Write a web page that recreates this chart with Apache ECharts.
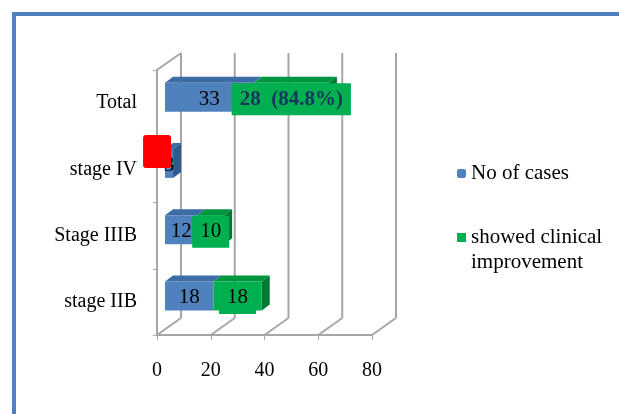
<!DOCTYPE html>
<html>
<head>
<meta charset="utf-8">
<script src="https://cdn.jsdelivr.net/npm/echarts@6/dist/echarts.min.js"></script>
<style>
  html, body { margin: 0; padding: 0; background: #fff; }
  #chart { width: 619px; height: 414px; }
</style>
</head>
<body>
<div id="chart"></div>
<script>
// data
const categories = ['Total', 'stage IV', 'Stage IIIB', 'stage IIB'];
const cases = [33, 3, 12, 18];
const improved = [28, 0, 10, 18];
const improvedText = ['28  (84.8%)', ' ', '10', '18'];
const xTicks = [0, 20, 40, 60, 80];

const BLUE = '#4F81BD', GREEN = '#00B050';
const FONT = 'Liberation Serif';
const depth = [24, -17];   // back wall offset
const barShift = 8, barShiftY = -6; // bar depth

const chart = echarts.init(document.getElementById('chart'));

const greenData = improved.map((v, i) => {
  const lab = {
    show: true,
    formatter: improvedText[i],
    backgroundColor: GREEN,
    padding: [6, 8, 5, 8],
    offset: [0, 2],
    color: '#000',
    fontFamily: FONT,
    fontSize: 21
  };
  if (i === 0) {
    lab.fontWeight = 'bold';
    lab.color = '#17375E';
  }
  if (v === 0) {
    lab.backgroundColor = '#FF0000';
    lab.width = 28;
    lab.height = 33;
    lab.padding = 0;
    lab.borderRadius = 3;
    lab.offset = [-16, -12];
  }
  return { value: v, label: lab };
});

const option = {
  animation: false,
  backgroundColor: '#fff',
  graphic: [
    { type: 'rect', shape: { x: 12, y: 12, width: 607, height: 4 }, style: { fill: BLUE } },
    { type: 'rect', shape: { x: 12, y: 12, width: 4, height: 402 }, style: { fill: BLUE } }
  ],
  legend: [
    {
      data: ['No of cases'],
      left: 457, top: 163, padding: 0,
      itemWidth: 9, itemHeight: 9,
      selectedMode: false,
      textStyle: { fontFamily: FONT, fontSize: 21, color: '#000' }
    },
    {
      data: [{ name: 'showed clinical improvement', icon: 'path://M0,0L9,0L9,9L0,9Z M0,34L9,34' }],
      left: 457, top: 225, padding: 0,
      itemWidth: 9, itemHeight: 34,
      selectedMode: false,
      formatter: () => 'showed clinical\nimprovement',
      textStyle: { fontFamily: FONT, fontSize: 21, color: '#000', lineHeight: 25 }
    }
  ],
  grid: [
    { left: 157, top: 70, width: 215, height: 265 },
    { left: 157 + barShift, top: 70 + barShiftY, width: 215, height: 265 }
  ],
  xAxis: [
    {
      gridIndex: 0, type: 'value', min: 0, max: 80, interval: 20,
      axisLine: { show: true, lineStyle: { color: '#A6A6A6', width: 2 } },
      axisTick: { show: true, length: 5, lineStyle: { color: '#A6A6A6' } },
      splitLine: { show: false },
      axisLabel: { margin: 26, fontFamily: FONT, fontSize: 20, color: '#000' }
    },
    { gridIndex: 1, type: 'value', min: 0, max: 80, show: false, splitLine: { show: false } }
  ],
  yAxis: [
    {
      gridIndex: 0, type: 'category', data: categories, inverse: true,
      axisLine: { show: true, lineStyle: { color: '#A6A6A6', width: 2 } },
      axisTick: { show: true, length: 4, lineStyle: { color: '#A6A6A6' } },
      axisLabel: { margin: 20, fontFamily: FONT, fontSize: 20, color: '#000' }
    },
    { gridIndex: 1, type: 'category', data: categories, inverse: true, show: false }
  ],
  series: [
    {
      // back wall and floor of the 3D plot
      type: 'custom',
      xAxisIndex: 0, yAxisIndex: 0,
      z: 1, silent: true,
      encode: { x: 0, y: 1 },
      data: xTicks.map(v => [v, 0]),
      renderItem: (params, api) => {
        const cs = params.coordSys;
        const x = api.coord([api.value(0), 0])[0];
        const top = cs.y, bot = cs.y + cs.height;
        const ls = { stroke: '#A6A6A6', lineWidth: 2 };
        const kids = [
          { type: 'line', shape: { x1: x + depth[0], y1: top + depth[1], x2: x + depth[0], y2: bot + depth[1] }, style: ls },
          { type: 'line', shape: { x1: x, y1: bot, x2: x + depth[0], y2: bot + depth[1] }, style: ls }
        ];
        if (api.value(0) === 0) {
          kids.push({ type: 'line', shape: { x1: x, y1: top, x2: x + depth[0], y2: top + depth[1] }, style: ls });
        }
        return { type: 'group', children: kids };
      }
    },
    {
      name: 'No of cases',
      type: 'bar', stack: 'a',
      xAxisIndex: 1, yAxisIndex: 1,
      barWidth: 29, z: 3,
      itemStyle: { color: BLUE },
      label: { show: true, position: 'inside', offset: [0, 2], color: '#000', fontFamily: FONT, fontSize: 21 },
      data: cases
    },
    {
      name: 'showed clinical improvement',
      type: 'bar', stack: 'a',
      xAxisIndex: 1, yAxisIndex: 1,
      barWidth: 29, z: 3,
      itemStyle: { color: GREEN },
      label: { show: true, position: 'inside' },
      data: greenData
    },
    {
      // top and side faces of the bars
      type: 'custom',
      xAxisIndex: 1, yAxisIndex: 1,
      z: 2, silent: true,
      encode: { x: 1, y: 0 },
      data: categories.map((c, i) => [i, cases[i], improved[i]]),
      renderItem: (params, api) => {
        const i = api.value(0), a = api.value(1), b = api.value(2);
        const p0 = api.coord([0, i]), p1 = api.coord([a, i]), p2 = api.coord([a + b, i]);
        const h = 29, yT = p0[1] - h / 2, yB = p0[1] + h / 2;
        const dx = 8, dy = -6;
        const face = (x0, x1, fill) => ({
          type: 'polygon',
          shape: { points: [[x0, yT], [x1, yT], [x1 + dx, yT + dy], [x0 + dx, yT + dy]] },
          style: { fill: fill }
        });
        const kids = [face(p0[0], p1[0], '#3D6BA5')];
        if (b > 0) kids.push(face(p1[0], p2[0], '#00953F'));
        const xe = b > 0 ? p2[0] : p1[0];
        kids.push({
          type: 'polygon',
          shape: { points: [[xe, yT], [xe + dx, yT + dy], [xe + dx, yB + dy], [xe, yB]] },
          style: { fill: b > 0 ? '#007A33' : '#2E5A8E' }
        });
        return { type: 'group', children: kids };
      }
    }
  ]
};

chart.setOption(option);
</script>
</body>
</html>
